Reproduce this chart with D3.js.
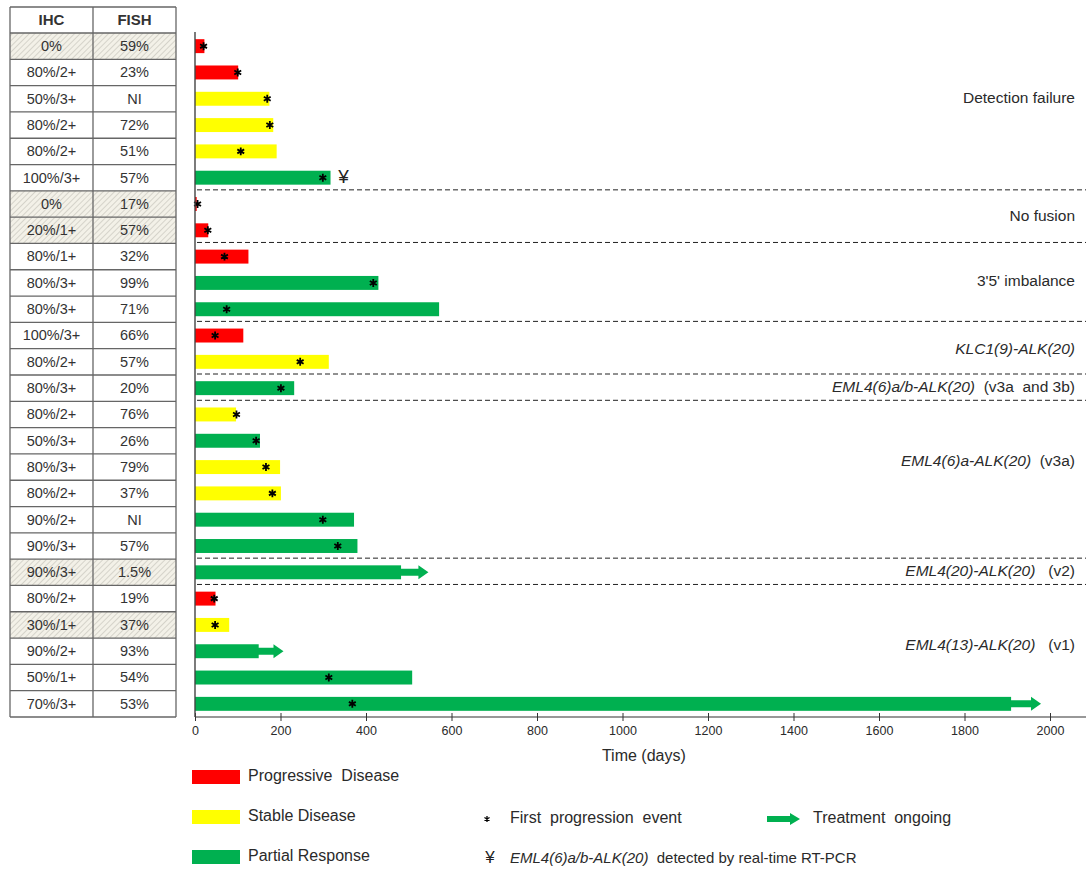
<!DOCTYPE html>
<html>
<head>
<meta charset="utf-8">
<script src="https://cdn.jsdelivr.net/npm/d3@7"></script>
<style>
  body { margin: 0; background: #fff; }
  svg { font-family: "Liberation Sans", Arial, sans-serif; }
</style>
</head>
<body>
<svg id="chart" width="1086" height="870"></svg>
<script>
/* global d3 */

// Patient rows, top to bottom
var ihc = ["0%", "80%/2+", "50%/3+", "80%/2+", "80%/2+", "100%/3+", "0%", "20%/1+", "80%/1+", "80%/3+", "80%/3+",
    "100%/3+", "80%/2+", "80%/3+", "80%/2+", "50%/3+", "80%/3+", "80%/2+", "90%/2+", "90%/3+", "90%/3+",
    "80%/2+", "30%/1+", "90%/2+", "50%/1+", "70%/3+"];
var fish = ["59%", "23%", "NI", "72%", "51%", "57%", "17%", "57%", "32%", "99%", "71%",
    "66%", "57%", "20%", "76%", "26%", "79%", "37%", "NI", "57%", "1.5%",
    "19%", "37%", "93%", "54%", "53%"];
var hatched = [0, 6, 7, 20, 22];
var response = ["PD", "PD", "SD", "SD", "SD", "PR", "PD", "PD", "PD", "PR", "PR",
    "PD", "SD", "PR", "SD", "PR", "SD", "SD", "PR", "PR", "PR",
    "PD", "SD", "PR", "PR", "PR"];
var duration = [22, 101, 174, 183, 191, 317, 4, 31, 125, 429, 571,
    113, 313, 232, 96, 152, 199, 201, 372, 380, 482,
    48, 80, 149, 508, 1909];
var progression = [20, 100, 169, 175, 107, 299, 6, 30, 69, 417, 74,
    47, 246, 201, 97, 143, 166, 181, 299, 334, null,
    45, 47, null, 313, 368];
var ongoing = [null, null, null, null, null, null, null, null, null, null, null,
    null, null, null, null, null, null, null, null, null, 546,
    null, null, 207, null, 1979];
var rtpcrRow = 5;

// Group separators (after row n) and labels (row position)
var separators = [6, 8, 11, 13, 14, 20, 21];
var groupLabels = [
    { at: 2.5, it: "", txt: "Detection failure" },
    { at: 7.0, it: "", txt: "No fusion" },
    { at: 9.45, it: "", txt: "3'5' imbalance" },
    { at: 12.05, it: "KLC1(9)-ALK(20)", txt: "" },
    { at: 13.5, it: "EML4(6)a/b-ALK(20)", txt: "  (v3a  and 3b)" },
    { at: 16.3, it: "EML4(6)a-ALK(20)", txt: "  (v3a)" },
    { at: 20.5, it: "EML4(20)-ALK(20)", txt: "   (v2)" },
    { at: 23.3, it: "EML4(13)-ALK(20)", txt: "   (v1)" }
];

var xTicks = [0, 200, 400, 600, 800, 1000, 1200, 1400, 1600, 1800, 2000];
var colors = { PD: "#ff0000", SD: "#ffff00", PR: "#00b050" };
var legendItems = [
    { key: "PD", label: "Progressive  Disease" },
    { key: "SD", label: "Stable Disease" },
    { key: "PR", label: "Partial Response" }
];

var svg = d3.select("#chart");
var rows = d3.range(ihc.length);
var textColor = "#2a2a2a";

// Scales
var x = d3.scaleLinear().domain([0, 2000]).range([195, 1050]);
var y = d3.scaleBand().domain(rows).range([33, 717])
    .paddingInner(0.47).paddingOuter(0.235);
var step = y.step();
var rowTop = function (i) { return y.range()[0] + i * step; };

// Hatch pattern for table cells
var defs = svg.append("defs");
var pat = defs.append("pattern")
    .attr("id", "hatch")
    .attr("patternUnits", "userSpaceOnUse")
    .attr("width", 4).attr("height", 4)
    .attr("patternTransform", "rotate(45)");
pat.append("rect").attr("width", 4).attr("height", 4).attr("fill", "#f3f1e8");
pat.append("line").attr("x1", 0).attr("y1", 0).attr("x2", 0).attr("y2", 4)
    .attr("stroke", "#b8b6ad").attr("stroke-width", 1);

// Table
// --------------------
var table = svg.append("g").attr("id", "table");
var colX = [10, 93, 176];

table.selectAll(".hrow")
    .data(hatched)
    .enter().append("rect")
    .attr("x", colX[0])
    .attr("y", d => rowTop(d))
    .attr("width", colX[2] - colX[0])
    .attr("height", step)
    .attr("fill", "url(#hatch)");

table.append("text").text("IHC")
    .attr("x", (colX[0] + colX[1]) / 2).attr("y", 21)
    .attr("text-anchor", "middle").attr("dominant-baseline", "middle")
    .attr("font-weight", "bold").attr("font-size", 15).attr("fill", "#333");
table.append("text").text("FISH")
    .attr("x", (colX[1] + colX[2]) / 2).attr("y", 21)
    .attr("text-anchor", "middle").attr("dominant-baseline", "middle")
    .attr("font-weight", "bold").attr("font-size", 15).attr("fill", "#333");

table.selectAll(".ihc")
    .data(rows)
    .enter().append("text")
    .text(d => ihc[d])
    .attr("x", (colX[0] + colX[1]) / 2)
    .attr("y", d => rowTop(d) + step / 2 + 1)
    .attr("text-anchor", "middle").attr("dominant-baseline", "middle")
    .attr("font-size", 14.5).attr("fill", "#333");
table.selectAll(".fish")
    .data(rows)
    .enter().append("text")
    .text(d => fish[d])
    .attr("x", (colX[1] + colX[2]) / 2)
    .attr("y", d => rowTop(d) + step / 2 + 1)
    .attr("text-anchor", "middle").attr("dominant-baseline", "middle")
    .attr("font-size", 14.5).attr("fill", "#333");

// grid lines
table.selectAll(".hline")
    .data(d3.range(ihc.length + 2))
    .enter().append("line")
    .attr("x1", colX[0]).attr("x2", colX[2])
    .attr("y1", d => d === 0 ? 7 : rowTop(d - 1))
    .attr("y2", d => d === 0 ? 7 : rowTop(d - 1))
    .attr("stroke", "#666").attr("stroke-width", 1.3);
table.selectAll(".vline")
    .data(colX)
    .enter().append("line")
    .attr("x1", d => d).attr("x2", d => d)
    .attr("y1", 7).attr("y2", rowTop(ihc.length))
    .attr("stroke", "#666").attr("stroke-width", 1.3);

// Plot
// --------------------
var plot = svg.append("g").attr("id", "plot");

plot.selectAll(".sep")
    .data(separators)
    .enter().append("line")
    .attr("x1", 197).attr("x2", 1086)
    .attr("y1", d => rowTop(d) - 1)
    .attr("y2", d => rowTop(d) - 1)
    .attr("stroke", "#222").attr("stroke-width", 1)
    .attr("stroke-dasharray", "5,3");

plot.selectAll(".bar")
    .data(rows)
    .enter().append("rect")
    .attr("x", x(0))
    .attr("y", d => y(d))
    .attr("width", d => x(duration[d]) - x(0))
    .attr("height", y.bandwidth())
    .attr("fill", d => colors[response[d]]);

// treatment ongoing arrows
function arrowPath(x0, x1, cy, h) {
    var head = 10, shaft = h * 0.5;
    var xh = x1 - head;
    return "M" + x0 + "," + (cy - shaft / 2) + "L" + xh + "," + (cy - shaft / 2) +
        "L" + xh + "," + (cy - h / 2) + "L" + x1 + "," + cy + "L" + xh + "," + (cy + h / 2) +
        "L" + xh + "," + (cy + shaft / 2) + "L" + x0 + "," + (cy + shaft / 2) + "Z";
}
plot.selectAll(".arrow")
    .data(rows.filter(d => ongoing[d] !== null))
    .enter().append("path")
    .attr("d", d => arrowPath(x(duration[d]) - 1, x(ongoing[d]), y(d) + y.bandwidth() / 2, y.bandwidth()))
    .attr("fill", colors.PR);

var star = d3.symbol().type(d3.symbolAsterisk).size(44);
plot.selectAll(".star")
    .data(rows.filter(d => progression[d] !== null))
    .enter().append("path")
    .attr("d", star)
    .attr("transform", d => `translate(${x(progression[d])}, ${y(d) + y.bandwidth() / 2})`)
    .attr("stroke", "#000").attr("stroke-width", 1.8).attr("fill", "#000");

plot.append("text").text("¥")
    .attr("x", x(duration[rtpcrRow]) + 13)
    .attr("y", y(rtpcrRow) + y.bandwidth() / 2)
    .attr("text-anchor", "middle").attr("dominant-baseline", "middle")
    .attr("font-size", 19).attr("fill", "#222");

// Axes
var xAxis = d3.axisBottom(x).tickValues(xTicks).tickFormat(d3.format("d"))
    .tickSize(4).tickSizeOuter(0);
var gx = plot.append("g")
    .attr("transform", `translate(0, 717)`)
    .call(xAxis);
gx.select(".domain").remove();
gx.append("line").attr("x1", x(0)).attr("x2", 1086).attr("stroke", "#333").attr("stroke-width", 1.2);
gx.selectAll(".tick line").attr("y1", -4).attr("stroke", "#333");
gx.selectAll(".tick text")
    .attr("font-family", "'Liberation Sans Narrow', 'Liberation Sans', Arial, sans-serif")
    .attr("font-size", 12.5).attr("fill", textColor).attr("dy", "0.9em");

plot.append("line")
    .attr("x1", x(0)).attr("x2", x(0))
    .attr("y1", 32).attr("y2", 717)
    .attr("stroke", "#444").attr("stroke-width", 1.4);

plot.append("text").text("Time (days)")
    .attr("x", x(1050)).attr("y", 757)
    .attr("text-anchor", "middle").attr("dominant-baseline", "middle")
    .attr("font-size", 16).attr("fill", textColor);

// Group labels
var gl = plot.selectAll(".glabel")
    .data(groupLabels)
    .enter().append("text")
    .attr("x", 1075)
    .attr("y", d => rowTop(d.at))
    .attr("text-anchor", "end").attr("dominant-baseline", "middle")
    .attr("font-size", 15.5).attr("fill", textColor)
    .attr("xml:space", "preserve");
gl.append("tspan").attr("font-style", "italic").text(d => d.it);
gl.append("tspan").text(d => d.txt);

// Legend
// --------------------
var legend = svg.append("g").attr("id", "legend");
var ly = d3.scalePoint().domain(legendItems.map(d => d.key)).range([777, 857]);
legend.selectAll(".lrect")
    .data(legendItems)
    .enter().append("rect")
    .attr("x", 192).attr("y", d => ly(d.key) - 7)
    .attr("width", 48).attr("height", 14)
    .attr("fill", d => colors[d.key]);
legend.selectAll(".ltext")
    .data(legendItems)
    .enter().append("text")
    .text(d => d.label)
    .attr("x", 248).attr("y", d => ly(d.key))
    .attr("dominant-baseline", "middle")
    .attr("font-size", 16).attr("fill", textColor)
    .attr("xml:space", "preserve");

legend.append("path")
    .attr("d", star.size(24)())
    .attr("transform", `translate(487, ${ly("SD") + 2})`)
    .attr("stroke", "#000").attr("stroke-width", 1.3);
legend.append("text").text("First  progression  event")
    .attr("x", 510).attr("y", ly("SD") + 2)
    .attr("dominant-baseline", "middle").attr("font-size", 16).attr("fill", textColor)
    .attr("xml:space", "preserve");

legend.append("path")
    .attr("d", arrowPath(767, 800, ly("SD") + 2, 12))
    .attr("fill", colors.PR);
legend.append("text").text("Treatment  ongoing")
    .attr("x", 813).attr("y", ly("SD") + 2)
    .attr("dominant-baseline", "middle").attr("font-size", 16).attr("fill", textColor)
    .attr("xml:space", "preserve");

legend.append("text").text("¥")
    .attr("x", 490).attr("y", ly("PR") + 2)
    .attr("text-anchor", "middle").attr("dominant-baseline", "middle")
    .attr("font-size", 17).attr("fill", "#222");
var lt = legend.append("text")
    .attr("x", 510).attr("y", ly("PR") + 2)
    .attr("dominant-baseline", "middle").attr("font-size", 15).attr("fill", textColor)
    .attr("xml:space", "preserve");
lt.append("tspan").attr("font-style", "italic").text("EML4(6)a/b-ALK(20)");
lt.append("tspan").text("  detected by real-time RT-PCR");
</script>
</body>
</html>
